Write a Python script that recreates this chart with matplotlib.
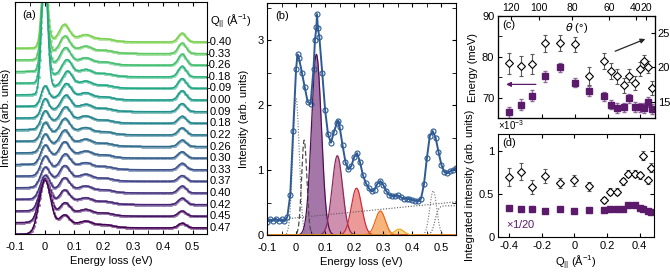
import numpy as np
import matplotlib
matplotlib.use("Agg")
import matplotlib.pyplot as plt
from matplotlib.ticker import MultipleLocator, FixedLocator, FuncFormatter
from matplotlib.transforms import blended_transform_factory

plt.rcParams["font.family"] = ["Liberation Sans", "DejaVu Sans"]
plt.rcParams["font.size"] = 8
plt.rcParams["axes.unicode_minus"] = False
plt.rcParams["xtick.direction"] = "in"
plt.rcParams["ytick.direction"] = "in"
plt.rcParams["xtick.major.size"] = 3
plt.rcParams["ytick.major.size"] = 3
plt.rcParams["xtick.minor.size"] = 3
plt.rcParams["ytick.minor.size"] = 3
plt.rcParams["xtick.major.pad"] = 3
plt.rcParams["ytick.major.pad"] = 2.5
plt.rcParams["axes.linewidth"] = 0.8
plt.rcParams["mathtext.default"] = "regular"

# momentum transfer of each spectrum
q_values = [-0.40, -0.33, -0.26, -0.18, -0.09, 0.00, 0.09, 0.18, 0.22,
            0.26, 0.30, 0.33, 0.37, 0.40, 0.42, 0.45, 0.47]
q_labels = ["-0.40", "-0.33", "-0.26", "-0.18", "-0.09", "0.00", "0.09", "0.18",
            "0.22", "0.26", "0.30", "0.33", "0.37", "0.40", "0.42", "0.45", "0.47"]

# (a) fit parameters per spectrum (units of trace spacing)
elastic_amp = [6.5, 7.5, 8.5, 9.5, 10.5, 1.4, 1.3, 1.25, 1.25, 1.25, 1.3,
               1.35, 1.4, 1.7, 2.4, 3.4, 4.3]
elastic_width = [0.010, 0.010, 0.010, 0.010, 0.010, 0.012, 0.012, 0.013, 0.013,
                 0.013, 0.014, 0.014, 0.015, 0.016, 0.017, 0.018, 0.019]
phonon_amp = [1.25, 1.25, 1.25, 1.2, 1.2, 1.15, 1.15, 1.15, 1.15, 1.15, 1.15,
              1.1, 1.1, 1.05, 1.0, 0.9, 0.85]
second_amp = [0.3, 0.3, 0.3, 0.3, 0.3, 0.3, 0.3, 0.3, 0.3, 0.3, 0.28,
              0.28, 0.28, 0.27, 0.26, 0.25, 0.25]
third_amp = [0.12, 0.12, 0.12, 0.12, 0.12, 0.12, 0.12, 0.12, 0.12, 0.12,
             0.12, 0.12, 0.12, 0.12, 0.12, 0.12, 0.12]
feature_amp = [0.75, 0.9, 0.95, 0.9, 0.85, 0.8, 0.7, 0.6, 0.6, 0.55, 0.55,
               0.55, 0.5, 0.6, 0.55, 0.45, 0.4]

# (b) measured spectrum
b_energy = [-0.10, -0.09, -0.08, -0.07, -0.06, -0.05, -0.04, -0.03, -0.02, -0.01,
            0.00, 0.005, 0.01, 0.02, 0.03, 0.04, 0.05, 0.06, 0.065, 0.07, 0.072,
            0.075, 0.08, 0.09, 0.10, 0.11, 0.12, 0.13, 0.14, 0.145, 0.15, 0.16,
            0.17, 0.18, 0.19, 0.20, 0.21, 0.22, 0.23, 0.24, 0.25, 0.26, 0.27,
            0.28, 0.29, 0.30, 0.31, 0.32, 0.33, 0.34, 0.35, 0.36, 0.37, 0.38,
            0.39, 0.40, 0.41, 0.42, 0.43, 0.44, 0.45, 0.46, 0.47, 0.48, 0.49,
            0.50, 0.51, 0.52, 0.53, 0.54, 0.55]
b_intensity = [0.20, 0.24, 0.22, 0.25, 0.22, 0.24, 0.21, 0.28, 0.62, 1.60,
               2.55, 2.78, 2.72, 2.50, 2.27, 2.05, 2.02, 2.55, 3.00, 3.20, 3.40,
               3.18, 3.05, 2.50, 1.92, 1.55, 1.42, 1.58, 1.72, 1.76, 1.66, 1.38,
               1.12, 1.01, 1.06, 1.20, 1.26, 1.12, 0.92, 0.80, 0.72, 0.67, 0.70,
               0.79, 0.83, 0.77, 0.68, 0.62, 0.60, 0.60, 0.61, 0.58, 0.56, 0.56,
               0.55, 0.54, 0.53, 0.52, 0.56, 0.78, 1.18, 1.52, 1.60, 1.50, 1.28,
               1.08, 0.97, 0.95, 0.98, 1.00, 1.03]

# (b) fitted phonon harmonics
b_peak_energy = [0.070, 0.142, 0.208, 0.290, 0.355]
b_peak_amp = [2.78, 1.22, 0.72, 0.37, 0.09]
b_peak_width = [0.017, 0.018, 0.018, 0.017, 0.016]
b_fill_colors = ["#a477a8", "#cf8fae", "#eb9a98", "#f6b47c", "#f9d681"]
b_edge_colors = ["#4f0f55", "#8c2a5c", "#cf2f3c", "#e8671d", "#f0a820"]
# (b) other components: (energy, amplitude, width)
b_elastic = (0.0, 2.1, 0.011)
b_shoulder = (0.028, 1.46, 0.009)
b_feature = (0.472, 0.68, 0.012)
b_step = (0.478, 0.45, 0.012)
b_background = (0.22, 0.51)

# (c) phonon energy (meV) and second mode energy (right axis)
c_energy = [66.4, 68.3, 70.5, 75.2, 77.4, 73.7, 71.7, 70.3, 68.3, 67.5, 67.6,
            69.8, 67.8, 67.6, 67.5, 68.9, 67.2]
c_energy_err = [1.3, 1.3, 1.3, 1.4, 1.2, 1.2, 1.2, 1.2, 1.2, 1.2, 1.2, 1.2,
                1.2, 1.2, 1.2, 1.2, 1.2]
c_second = [20.6, 20.2, 20.5, 23.5, 23.6, 23.4, 18.7, 20.9, 19.5, 18.7, 17.4,
            18.8, 17.7, 19.8, 20.9, 20.1, 17.0]
c_second_err = [1.5, 1.5, 1.5, 1.2, 1.2, 1.1, 1.3, 1.2, 1.2, 1.1, 1.1, 1.0,
                1.0, 1.0, 0.9, 0.9, 1.0]
theta_ticks = [120, 100, 80, 60, 40, 20]
theta_tick_q = [-0.392, -0.221, -0.016, 0.211, 0.371, 0.438]

# (d) integrated intensities (x 1e-3)
d_phonon = [0.337, 0.32, 0.32, 0.30, 0.33, 0.30, 0.31, 0.31, 0.32, 0.32,
            0.33, 0.376, 0.37, 0.337, 0.32, 0.30, 0.29]
d_second = [0.70, 0.76, 0.58, 0.71, 0.63, 0.66, 0.59, 0.43, 0.53, 0.53, 0.65,
            0.74, 0.74, 0.72, 0.95, 0.66, 0.81]
d_second_err = [0.11, 0.1, 0.08, 0.08, 0.06, 0.06, 0.05, 0.04, 0.04, 0.04,
                0.04, 0.04, 0.04, 0.04, 0.05, 0.04, 0.05]

PURPLE = "#5c1a6b"
BLUE = "#2e5b94"


def gauss(x, x0, a, s):
    return a * np.exp(-0.5 * ((x - x0) / s) ** 2)


def fmt_tick(v, pos):
    if abs(v) < 1e-9:
        return "0"
    return f"{v:g}"


fig = plt.figure(figsize=(6.7, 2.72), dpi=100)

# ---------------- (a) waterfall ----------------
ax_a = fig.add_axes([0.0224, 0.140, 0.287, 0.853])
E = np.arange(-0.1, 0.5501, 0.002)
cmap = plt.get_cmap("viridis")
n = len(q_values)
for i in range(n):
    offset = n - 1 - i
    col = cmap(0.8 * (n - 1 - i) / (n - 1))
    light = tuple(0.55 * np.array(col[:3]) + 0.45)
    base = -0.55 + 0.55 / (1 + np.exp(-E / 0.008))
    y = (offset + base + gauss(E, 0.12, 0.35, 0.07)
         + gauss(E, 0.0, elastic_amp[i], elastic_width[i])
         + gauss(E, c_energy[i] / 1000, phonon_amp[i], 0.016)
         + gauss(E, 0.14, second_amp[i], 0.018)
         + gauss(E, 0.21, third_amp[i], 0.02)
         + gauss(E, 0.465, feature_amp[i], 0.013))
    ax_a.plot(E[::2], y[::2], "o", ms=2.2, color=light, mec="none")
    ax_a.plot(E, y, color=col, lw=1.1)
ax_a.set_xlim(-0.1, 0.55)
ax_a.set_ylim(-0.52, 19.45)
ax_a.xaxis.set_major_locator(MultipleLocator(0.1))
ax_a.xaxis.set_minor_locator(MultipleLocator(0.05))
ax_a.xaxis.set_major_formatter(FuncFormatter(fmt_tick))
ax_a.tick_params(axis="x", which="both", top=True)
ax_a.tick_params(axis="x", which="major", pad=5.5)
ax_a.set_yticks([])
ax_a.set_xlabel("Energy loss (eV)", labelpad=3)
ax_a.set_ylabel("Intensity (arb. units)", labelpad=3)
ax_a.text(0.04, 0.965, "(a)", transform=ax_a.transAxes, va="top")
tr = blended_transform_factory(ax_a.transAxes, ax_a.transData)
for i, lab in enumerate(q_labels):
    ax_a.text(1.125, n - 1 - i, lab, transform=tr, ha="right", va="center",
              clip_on=False)
ax_a.text(1.015, 0.915, r"Q$_{||}$ (Å$^{-1}$)", transform=ax_a.transAxes,
          ha="left", va="center")

# ---------------- (b) fit ----------------
ax_b = fig.add_axes([0.3985, 0.136, 0.282, 0.853])
Eb = np.arange(-0.1, 0.5501, 0.001)
bg = b_background[0] + (b_background[1] - b_background[0]) * (Eb + 0.1) / 0.65
ax_b.plot(Eb, bg, ls=(0, (1, 1.5)), color="0.35", lw=0.8)
step = b_step[1] * 0.5 * (1 + np.tanh((Eb - b_step[0]) / b_step[2]))
ax_b.plot(Eb, step, ls=(0, (1, 1.5)), color="0.35", lw=0.8)
ax_b.plot(Eb, gauss(Eb, *b_elastic), ls=(0, (1, 1.5)), color="0.45", lw=0.8)
ax_b.plot(Eb, gauss(Eb, *b_feature), ls=(0, (1, 1.5)), color="0.45", lw=0.8)
ax_b.plot(Eb, gauss(Eb, *b_shoulder), ls=(0, (4, 2)), color="0.3", lw=0.9)
for e0, a, s, fc, ec in zip(b_peak_energy, b_peak_amp, b_peak_width,
                            b_fill_colors, b_edge_colors):
    g = gauss(Eb, e0, a, s)
    ax_b.fill_between(Eb, 0, g, color=fc, lw=0)
    ax_b.plot(Eb, g, color=ec, lw=0.9)
ax_b.plot(b_energy, b_intensity, color=BLUE, lw=1.4)
ax_b.plot(b_energy, b_intensity, "o", ms=3.6, mfc="none", mec=BLUE, mew=0.8)
ax_b.set_xlim(-0.1, 0.55)
ax_b.set_ylim(0, 3.57)
ax_b.xaxis.set_major_locator(MultipleLocator(0.1))
ax_b.xaxis.set_minor_locator(MultipleLocator(0.05))
ax_b.xaxis.set_major_formatter(FuncFormatter(fmt_tick))
ax_b.yaxis.set_major_locator(MultipleLocator(1))
ax_b.yaxis.set_minor_locator(MultipleLocator(0.5))
ax_b.tick_params(which="both", top=True, right=True)
ax_b.tick_params(axis="x", which="major", pad=5.5)
ax_b.set_xlabel("Energy loss (eV)", labelpad=3)
ax_b.set_ylabel("Intensity (arb. units)", labelpad=6)
ax_b.text(0.045, 0.965, "(b)", transform=ax_b.transAxes, va="top")

# ---------------- (c) dispersion ----------------
ax_c = fig.add_axes([0.743, 0.566, 0.2346, 0.375])
ax_c.errorbar(q_values, c_energy, yerr=c_energy_err, fmt="s", ms=4.5,
              color=PURPLE, ecolor="#8f6a9c", elinewidth=0.8, capsize=1.5)
ax_c.set_xlim(-0.47, 0.49)
ax_c.set_ylim(65, 90)
ax_c.yaxis.set_major_locator(MultipleLocator(10))
ax_c.yaxis.set_minor_locator(MultipleLocator(5))
ax_c.xaxis.set_major_locator(MultipleLocator(0.2))
ax_c.tick_params(which="both", labelbottom=False, right=False)
ax_c.set_ylabel("Energy (meV)", labelpad=3)
ax_c.text(0.03, 0.96, "(c)", transform=ax_c.transAxes, va="top")
ax_c.text(0.5, 0.88, r"$\mathit{\theta}$ (°)", transform=ax_c.transAxes,
          ha="center", va="center")

ax_cr = ax_c.twinx()
ax_cr.errorbar(q_values, c_second, yerr=c_second_err, fmt="D", ms=4.2,
               mfc="white", mec="black", mew=0.8, ecolor="0.35",
               elinewidth=0.8, capsize=1.5)
ax_cr.set_ylim(12.6, 27.5)
ax_cr.yaxis.set_major_locator(MultipleLocator(5))
ax_cr.tick_params(axis="y", direction="in", pad=2)

ax_ct = ax_c.twiny()
ax_ct.set_xlim(ax_c.get_xlim())
ax_ct.xaxis.set_major_locator(FixedLocator(theta_tick_q))
ax_ct.set_xticklabels([str(t) for t in theta_ticks])
ax_ct.tick_params(axis="x", direction="in", pad=2, labelsize=7.5)

ax_c.annotate("", xy=(0.035, 0.33), xytext=(0.26, 0.33),
              xycoords="axes fraction",
              arrowprops=dict(arrowstyle="-|>", color=PURPLE, lw=0.9,
                              mutation_scale=7))
ax_c.annotate("", xy=(0.955, 0.785), xytext=(0.73, 0.645),
              xycoords="axes fraction",
              arrowprops=dict(arrowstyle="-|>", color="0.15", lw=0.9,
                              mutation_scale=7))

# ---------------- (d) intensities ----------------
ax_d = fig.add_axes([0.743, 0.129, 0.2334, 0.378])
ax_d.errorbar(q_values, d_second, yerr=d_second_err, fmt="D", ms=4.2,
              mfc="white", mec="black", mew=0.8, ecolor="0.35",
              elinewidth=0.8, capsize=1.5)
ax_d.plot(q_values, d_phonon, "s", ms=4.5, color=PURPLE)
ax_d.set_xlim(-0.47, 0.49)
ax_d.set_ylim(0, 1.2)
ax_d.xaxis.set_major_locator(MultipleLocator(0.2))
ax_d.xaxis.set_major_formatter(FuncFormatter(fmt_tick))
ax_d.yaxis.set_major_locator(MultipleLocator(0.5))
ax_d.yaxis.set_major_formatter(FuncFormatter(fmt_tick))
ax_d.tick_params(which="both", top=True, right=True)
ax_d.set_xlabel(r"Q$_{||}$ (Å$^{-1}$)", labelpad=2)
ax_d.set_ylabel("Integrated intensity (arb. units)", labelpad=3)
ax_d.text(0.03, 0.96, "(d)", transform=ax_d.transAxes, va="top")
ax_d.text(0.0, 1.02, r"$\times$10$^{-3}$", transform=ax_d.transAxes,
          ha="left", va="bottom", fontsize=7)
ax_d.text(0.05, 0.13, r"$\times$1/20", transform=ax_d.transAxes, color=PURPLE,
          ha="left", va="center")

fig.savefig("out.png", dpi=100)
